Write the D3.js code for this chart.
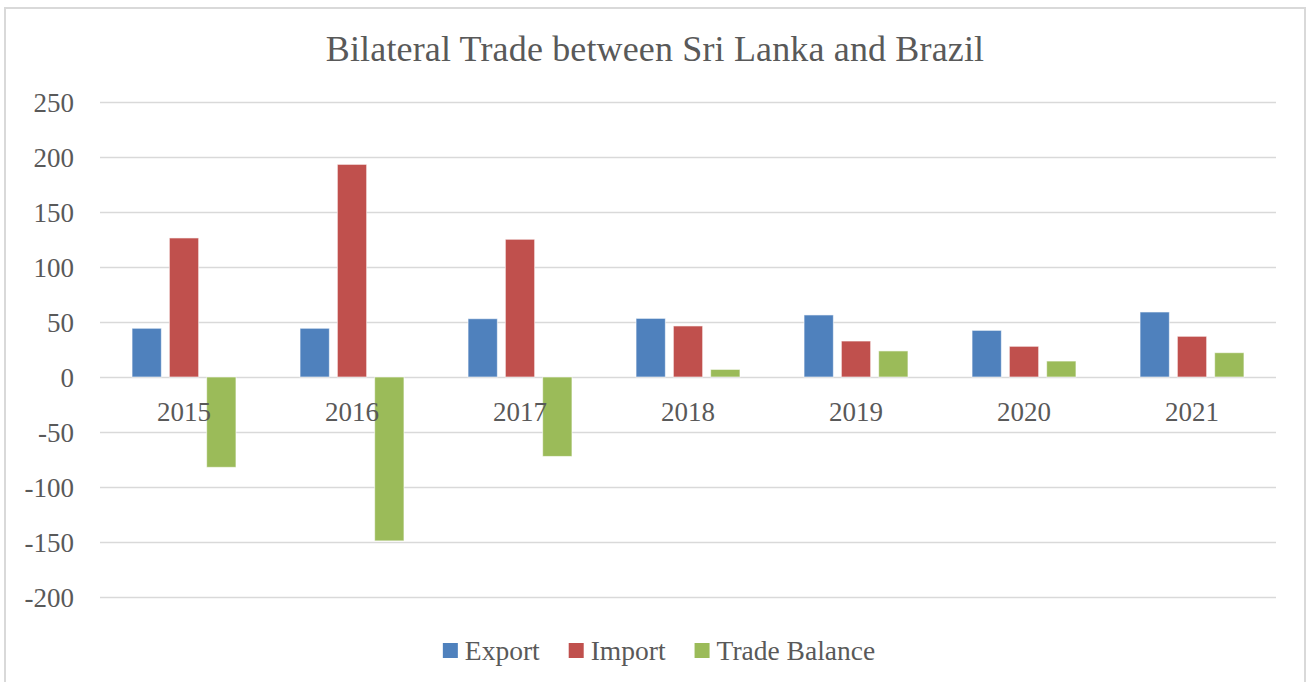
<!DOCTYPE html>
<html>
<head>
<meta charset="utf-8">
<script src="https://cdn.jsdelivr.net/npm/d3@7"></script>
<style>
  html, body { margin: 0; padding: 0; background: #ffffff; }
  svg { display: block; }
  text { font-family: "Liberation Serif", "DejaVu Serif", serif; fill: #595959; }
</style>
</head>
<body>
<svg id="chart" width="1307" height="682"></svg>
<script>
const title = "Bilateral Trade between Sri Lanka and Brazil";
const years = ["2015", "2016", "2017", "2018", "2019", "2020", "2021"];
const seriesNames = ["Export", "Import", "Trade Balance"];
const seriesColors = ["#4F81BD", "#C0504D", "#9BBB59"];
const exportValues = [44.3, 44.3, 53.0, 53.3, 56.4, 42.4, 59.1];
const importValues = [126.4, 193.3, 125.2, 46.4, 32.7, 27.9, 37.0];
const balanceValues = [-82.1, -149.0, -72.2, 6.9, 23.7, 14.5, 22.1];
const yTicks = [-200, -150, -100, -50, 0, 50, 100, 150, 200, 250];

const seriesValues = [exportValues, importValues, balanceValues];
const rows = years.map((y, i) => ({
  year: y,
  values: seriesNames.map((s, j) => ({ series: s, value: seriesValues[j][i], color: seriesColors[j] }))
}));

const svg = d3.select("#chart");

// chart border
svg.append("rect")
  .attr("x", 5).attr("y", 8).attr("width", 1300).attr("height", 690)
  .attr("fill", "#ffffff").attr("stroke", "#d9d9d9").attr("stroke-width", 2);

const plot = { left: 100, right: 1276, top: 102, bottom: 597 };

const y = d3.scaleLinear().domain([-200, 250]).range([plot.bottom, plot.top]);
const x0 = d3.scaleBand().domain(years).range([plot.left, plot.right]).paddingInner(0).paddingOuter(0);
const x1 = d3.scaleBand().domain(seriesNames).range([0, x0.bandwidth()])
  .paddingInner(0.2145).paddingOuter(0.859);

// gridlines
const yAxisGrid = d3.axisLeft(y).tickValues(yTicks).tickSize(-(plot.right - plot.left)).tickFormat("");
const grid = svg.append("g").attr("transform", `translate(${plot.left},0)`).call(yAxisGrid);
grid.select(".domain").remove();
grid.selectAll(".tick line").attr("stroke", "#d9d9d9").attr("stroke-width", 1.5);

// y labels
const yAxis = d3.axisLeft(y).tickValues(yTicks).tickSize(0).tickPadding(0).tickFormat(d => String(d));
const ya = svg.append("g").attr("transform", `translate(74,0)`).call(yAxis);
ya.select(".domain").remove();
ya.selectAll(".tick line").remove();
ya.selectAll(".tick text")
  .attr("font-family", "Liberation Serif, DejaVu Serif, serif")
  .attr("font-size", 27).attr("fill", "#595959")
  .attr("dy", "0.34em");

// bars
const groups = svg.append("g").selectAll("g").data(rows).join("g")
  .attr("transform", d => `translate(${x0(d.year)},0)`);
groups.selectAll("rect").data(d => d.values).join("rect")
  .attr("x", d => x1(d.series))
  .attr("width", x1.bandwidth())
  .attr("y", d => y(Math.max(0, d.value)))
  .attr("height", d => Math.abs(y(d.value) - y(0)))
  .attr("fill", d => d.color)
  .attr("stroke", "#ffffff").attr("stroke-opacity", 0.6).attr("stroke-width", 1);

// category labels
const xAxis = d3.axisBottom(x0).tickSize(0).tickPadding(0);
const xa = svg.append("g").attr("transform", `translate(0,${y(0)})`).call(xAxis);
xa.select(".domain").remove();
xa.selectAll(".tick text")
  .attr("font-family", "Liberation Serif, DejaVu Serif, serif")
  .attr("font-size", 27).attr("fill", "#595959")
  .attr("dy", null).attr("y", 44);

// title
svg.append("text")
  .attr("x", 655).attr("y", 61)
  .attr("text-anchor", "middle")
  .attr("font-size", 36)
  .attr("letter-spacing", 0.15)
  .text(title);

// legend
const legend = svg.append("g");
const items = legend.selectAll("g").data(seriesNames).join("g");
items.append("rect").attr("width", 15).attr("height", 15).attr("y", 643)
  .attr("fill", (d, i) => seriesColors[i]);
items.append("text").attr("y", 660).attr("font-size", 27.5).text(d => d);
const widths = [];
items.each(function () {
  widths.push(this.querySelector("text").getComputedTextLength());
});
const total = widths.reduce((a, w) => a + 15 + 7 + w, 0) + 29 * (widths.length - 1);
let cx = 659 - total / 2;
items.each(function (d, i) {
  const g = d3.select(this);
  g.select("rect").attr("x", cx);
  g.select("text").attr("x", cx + 22);
  cx += 15 + 7 + widths[i] + 29;
});
</script>
</body>
</html>
